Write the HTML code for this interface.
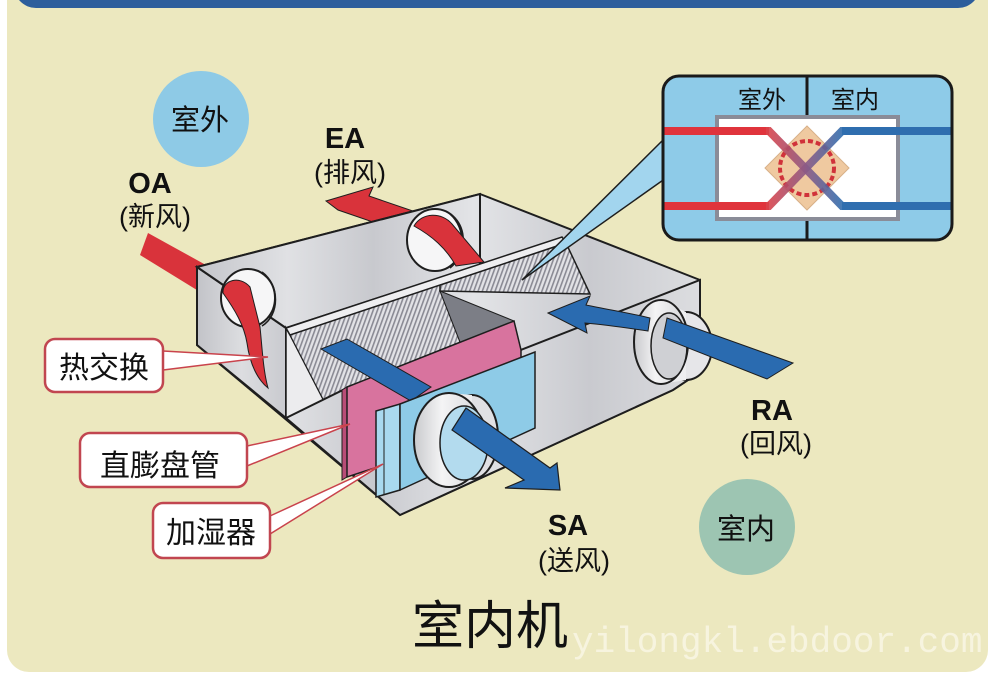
<!DOCTYPE html>
<html><head><meta charset="utf-8"><style>
html,body{margin:0;padding:0;background:#fff;}
svg{display:block;}
text{font-family:"Liberation Sans","Noto Sans CJK SC",sans-serif;fill:#111;}
</style></head><body>
<svg width="1000" height="681" viewBox="0 0 1000 681" xmlns="http://www.w3.org/2000/svg">
<defs>
 <linearGradient id="gBox" x1="197" y1="0" x2="700" y2="0" gradientUnits="userSpaceOnUse">
  <stop offset="0" stop-color="#c4c5ca"/><stop offset="0.18" stop-color="#e0e1e4"/>
  <stop offset="0.35" stop-color="#c8c9ce"/><stop offset="0.55" stop-color="#e3e4e7"/>
  <stop offset="0.78" stop-color="#c9cacf"/><stop offset="1" stop-color="#dcdde0"/>
 </linearGradient>
 <linearGradient id="gLeft" x1="197" y1="0" x2="286" y2="0" gradientUnits="userSpaceOnUse">
  <stop offset="0" stop-color="#c2c3c8"/><stop offset="0.5" stop-color="#dcdde0"/><stop offset="1" stop-color="#c9cacf"/>
 </linearGradient>
 <linearGradient id="gRing" x1="0" y1="0" x2="1" y2="0">
  <stop offset="0" stop-color="#c9cacd"/><stop offset="0.4" stop-color="#f4f4f5"/><stop offset="1" stop-color="#d4d5d8"/>
 </linearGradient>
 <pattern id="hatch" width="4" height="4" patternUnits="userSpaceOnUse" patternTransform="rotate(20)">
  <rect width="4" height="4" fill="#e2e2e6"/><rect width="1.6" height="4" fill="#8a8a94"/>
 </pattern>
 <linearGradient id="gX" x1="768" y1="0" x2="843" y2="0" gradientUnits="userSpaceOnUse">
  <stop offset="0" stop-color="#d9434a"/><stop offset="0.5" stop-color="#8c5a86"/><stop offset="1" stop-color="#2f6eaf"/>
 </linearGradient>
 <clipPath id="insetClip"><rect x="663" y="76" width="289" height="164" rx="16"/></clipPath>
</defs>

<rect width="1000" height="681" fill="#fff"/>
<rect x="7" y="-30" width="981" height="702" rx="22" fill="#ece8bf"/>
<rect x="14" y="-40" width="966" height="48" rx="22" fill="#2d5e9c"/>

<!-- circles -->
<circle cx="201" cy="119" r="48" fill="#8ecae6"/>
<text x="200" y="130" font-size="29" text-anchor="middle">室外</text>
<circle cx="747" cy="527" r="48" fill="#9dc5b2"/>
<text x="746" y="539" font-size="29" text-anchor="middle">室内</text>

<!-- labels -->
<text x="150" y="193" font-size="29" font-weight="bold" text-anchor="middle">OA</text>
<text x="155" y="226" font-size="27" text-anchor="middle">(新风)</text>
<text x="345" y="148" font-size="29" font-weight="bold" text-anchor="middle">EA</text>
<text x="350" y="182" font-size="27" text-anchor="middle">(排风)</text>
<text x="772" y="420" font-size="29" font-weight="bold" text-anchor="middle">RA</text>
<text x="776" y="453" font-size="27" text-anchor="middle">(回风)</text>
<text x="568" y="535" font-size="29" font-weight="bold" text-anchor="middle">SA</text>
<text x="574" y="570" font-size="27" text-anchor="middle">(送风)</text>

<text x="490" y="644" font-size="52" text-anchor="middle">室内机</text>
<text x="572" y="652" font-size="36" style="font-family:'Liberation Mono',monospace;fill:#f7f4df">yilongkl.ebdoor.com</text>

<!-- outer arrows behind box -->
<polygon points="326,201 373,187 369,196 445,222 440,245 338,210" fill="#d9333b" stroke="#1e1e1e" stroke-width="1"/>
<polygon points="148,233 215,270 205,295 140,255" fill="#d9333b"/>

<!-- box silhouette -->
<polygon points="197,267 480,194 700,280 700,372 673,390 400,515 197,345" fill="url(#gBox)" stroke="#1e1e1e" stroke-width="2"/>
<!-- left face -->
<polygon points="197,267 286,328 286,418 197,345" fill="url(#gLeft)" stroke="#1e1e1e" stroke-width="2"/>
<!-- back wall -->
<polygon points="197,267 480,194 480,265 286,328" fill="url(#gBox)" stroke="#1e1e1e" stroke-width="2"/>

<!-- holes -->
<ellipse cx="248" cy="298" rx="27" ry="29" fill="#f6f6f7" stroke="#1e1e1e" stroke-width="2"/>
<path d="M262,272 C280,285 280,315 262,326" fill="none" stroke="#1e1e1e" stroke-width="1.5"/>
<path d="M223,293 C222,280 240,275 250,287 L260,327 C262,345 263,370 268,388 C258,380 250,365 247,343 C244,325 235,310 223,293 Z" fill="#d9333b" stroke="#1e1e1e" stroke-width="1"/>
<ellipse cx="435" cy="240" rx="28" ry="31" fill="#f6f6f7" stroke="#1e1e1e" stroke-width="2"/>
<path d="M450,214 C466,228 466,256 450,268" fill="none" stroke="#1e1e1e" stroke-width="1.5"/>
<path d="M414,226 C422,212 442,212 452,224 L484,262 L456,266 C446,248 432,236 414,226 Z" fill="#d9333b" stroke="#1e1e1e" stroke-width="1"/>

<!-- heat exchanger -->
<polygon points="286,328 290,335 324,401 286,418" fill="#ececee" stroke="#1e1e1e" stroke-width="1.5"/>
<polygon points="290,335 440,285 440,291 460,342 347,387 324,401" fill="url(#hatch)" stroke="#1e1e1e" stroke-width="1"/>
<polygon points="440,285 566,243 590,294 440,291" fill="url(#hatch)" stroke="#1e1e1e" stroke-width="1.5"/>
<polygon points="440,291 514,321 521,350 460,342" fill="#7c7e86" stroke="#1e1e1e" stroke-width="1"/>
<polygon points="286,328 562,237 566,243 290,335" fill="#eeeef0" stroke="#1e1e1e" stroke-width="1.5"/>

<!-- front wall -->
<polygon points="286,418 349,387 518,351 700,280 700,372 673,390 400,515" fill="url(#gBox)" stroke="#1e1e1e" stroke-width="2"/>

<!-- RA ring -->
<ellipse cx="686" cy="346" rx="26" ry="34" fill="#e6e6e9" stroke="#1e1e1e" stroke-width="2"/>
<polygon points="661,300 686,312 686,380 661,384" fill="#eeeef0"/>
<ellipse cx="661" cy="342" rx="27" ry="42" fill="url(#gRing)" stroke="#1e1e1e" stroke-width="2"/>
<ellipse cx="669" cy="346" rx="18" ry="33" fill="#cfd0d4" stroke="#1e1e1e" stroke-width="1.5"/>
<polygon points="667,318 793,363 767,379 663,338" fill="#2a6bb0" stroke="#1e1e1e" stroke-width="1"/>
<path d="M548,313 L590,296 L586,305 C610,310 630,313 650,318 L648,331 C628,328 608,325 585,323 L587,333 Z" fill="#2a6bb0" stroke="#1e1e1e" stroke-width="1"/>

<!-- pink coil -->
<polygon points="342,390 347,387 347,477 342,480" fill="#b84d77" stroke="#1e1e1e" stroke-width="1"/>
<polygon points="347,387 514,321 521,350 521,420 347,477" fill="#d8739e" stroke="#1e1e1e" stroke-width="1.5"/>
<!-- blue bar -->
<polygon points="321,349 347,339 431,387 411,401" fill="#2a6bb0" stroke="#1e1e1e" stroke-width="1"/>

<!-- humidifier -->
<polygon points="376,411 400,404 400,490 376,497" fill="#a9d9ef" stroke="#1e1e1e" stroke-width="1.5"/>
<line x1="384" y1="409" x2="384" y2="494" stroke="#1e1e1e" stroke-width="1"/>
<polygon points="400,404 535,352 535,428 400,490" fill="#8ecbe7" stroke="#1e1e1e" stroke-width="1.5"/>

<!-- SA ring -->
<ellipse cx="472" cy="437" rx="26" ry="42" fill="#e0e0e3" stroke="#1e1e1e" stroke-width="2"/>
<polygon points="449,393 472,395 472,479 449,487" fill="#ececee"/>
<ellipse cx="449" cy="440" rx="35" ry="47" fill="url(#gRing)" stroke="#1e1e1e" stroke-width="2"/>
<ellipse cx="464" cy="443" rx="24" ry="37" fill="#b3dbee" stroke="#1e1e1e" stroke-width="1.5"/>
<polygon points="452,430 466,408 550,468 557,463 560,490 505,488 524,480" fill="#2a6bb0" stroke="#1e1e1e" stroke-width="1.2"/>

<!-- label pointers -->
<polygon points="163,351 268,357 163,370" fill="#fff" stroke="#c9434c" stroke-width="1.5"/>
<polygon points="247,446 350,424 247,466" fill="#fff" stroke="#c9434c" stroke-width="1.5"/>
<polygon points="270,516 383,464 270,534" fill="#fff" stroke="#c9434c" stroke-width="1.5"/>

<!-- label boxes -->
<rect x="45" y="339" width="118" height="53" rx="10" fill="#fff" stroke="#c14650" stroke-width="2.5"/>
<text x="104" y="378" font-size="30" text-anchor="middle">热交换</text>
<rect x="80" y="433" width="167" height="54" rx="10" fill="#fff" stroke="#c14650" stroke-width="2.5"/>
<text x="160" y="476" font-size="30" text-anchor="middle">直膨盘管</text>
<rect x="153" y="503" width="117" height="55" rx="10" fill="#fff" stroke="#c14650" stroke-width="2.5"/>
<text x="211" y="543" font-size="30" text-anchor="middle">加湿器</text>

<!-- inset pointer wedge -->
<polygon points="666,137 666,178 522,280" fill="#a2d5ee" stroke="#1e1e1e" stroke-width="1.5"/>

<!-- inset -->
<rect x="663" y="76" width="289" height="164" rx="16" fill="#8ecbe8"/>
<g clip-path="url(#insetClip)">
 <line x1="807" y1="76" x2="807" y2="118" stroke="#1a1a1a" stroke-width="3"/>
 <line x1="807" y1="218" x2="807" y2="240" stroke="#1a1a1a" stroke-width="3"/>
 <rect x="717" y="117" width="181" height="102" fill="#fff" stroke="#8a8c98" stroke-width="4"/>
 <polygon points="807,126 849,168 807,210 765,168" fill="#efc9a0" stroke="#d8b088" stroke-width="1"/>
 <circle cx="807" cy="168" r="27" fill="none" stroke="#d0323a" stroke-width="4" stroke-dasharray="5 3"/>
 <line x1="660" y1="131" x2="769" y2="131" stroke="#e0343c" stroke-width="8"/>
 <line x1="660" y1="206" x2="769" y2="206" stroke="#e0343c" stroke-width="8"/>
 <line x1="842" y1="131" x2="955" y2="131" stroke="#2f6eaf" stroke-width="8"/>
 <line x1="842" y1="206" x2="955" y2="206" stroke="#2f6eaf" stroke-width="8"/>
 <polyline points="766,131 769,131 842,206 845,206" fill="none" stroke="url(#gX)" stroke-width="8" stroke-opacity="0.9"/>
 <polyline points="766,206 769,206 842,131 845,131" fill="none" stroke="url(#gX)" stroke-width="8" stroke-opacity="0.9"/>
</g>
<rect x="663" y="76" width="289" height="164" rx="16" fill="none" stroke="#1a1a1a" stroke-width="3"/>
<text x="762" y="108" font-size="24" text-anchor="middle">室外</text>
<text x="855" y="108" font-size="24" text-anchor="middle">室内</text>
</svg>
</body></html>
